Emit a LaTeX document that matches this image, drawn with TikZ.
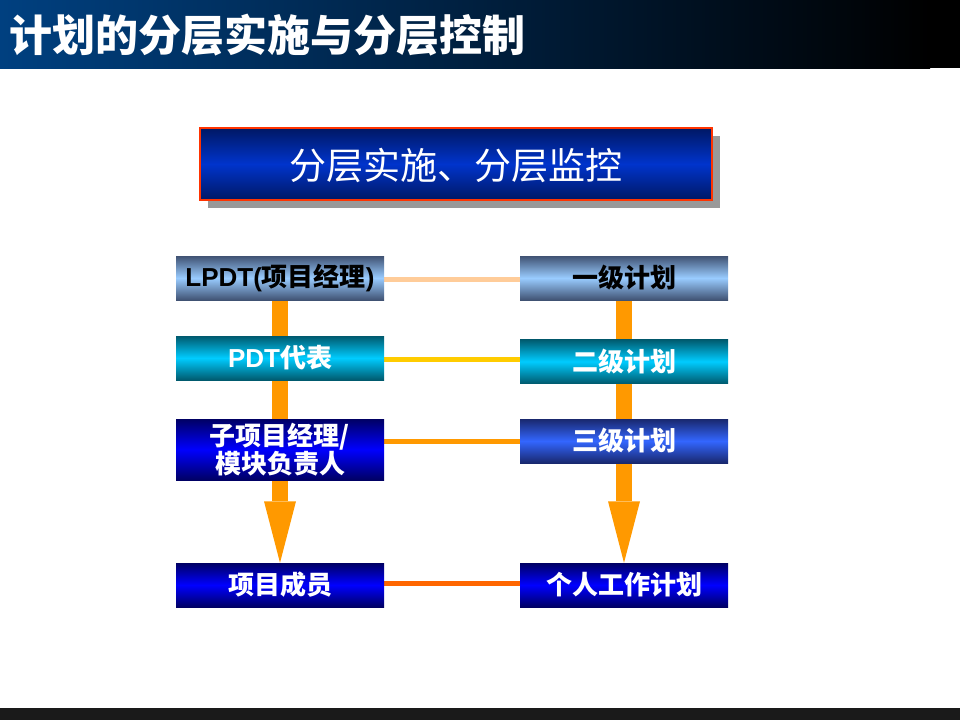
\documentclass[tikz,border=0pt]{standalone}
\usepackage{fontspec}
\usetikzlibrary{backgrounds}
\setmainfont{Liberation Sans}
\newfontfamily\cjk{Noto Sans CJK SC}
\definecolor{titleblue}{RGB}{0,64,128}
\definecolor{hdrdark}{RGB}{0,24,100}
\definecolor{hdrmid}{RGB}{0,52,204}
\definecolor{hdrred}{RGB}{255,51,0}
\definecolor{shadowgray}{RGB}{153,153,153}
\definecolor{lbmid}{RGB}{153,204,255}
\definecolor{lbedge}{RGB}{64,82,115}
\definecolor{cymid}{RGB}{0,204,255}
\definecolor{cyedge}{RGB}{0,90,110}
\definecolor{bmid}{RGB}{0,0,255}
\definecolor{bedge}{RGB}{0,0,100}
\definecolor{mbmid}{RGB}{51,102,255}
\definecolor{mbedge}{RGB}{25,40,110}
\definecolor{arroworange}{RGB}{255,153,0}
\definecolor{peach}{RGB}{255,204,153}
\definecolor{gold}{RGB}{255,204,0}
\definecolor{darkorange}{RGB}{255,102,0}
\definecolor{footgray}{RGB}{26,26,26}
\tikzset{
  box/.style={minimum width=208pt, minimum height=44pt, inner sep=0pt, align=center,
    font=\fontsize{26}{28}\selectfont\bfseries},
  cjkbox/.style={font=\fontsize{26}{28}\selectfont\bfseries\cjk},
  lightbox/.style={box, top color=lbedge, bottom color=lbedge, middle color=lbmid, text=black},
  cyanbox/.style={box, top color=cyedge, bottom color=cyedge, middle color=cymid, text=white},
  bluebox/.style={box, top color=bedge, bottom color=bedge, middle color=bmid, text=white},
  medbox/.style={box, top color=mbedge, bottom color=mbedge, middle color=mbmid, text=white},
  link/.style={line width=5pt},
  shaft/.style={line width=16pt, arroworange},
}
\begin{document}
\begin{tikzpicture}[x=1pt,y=-1pt]
\useasboundingbox (0,0) rectangle (960,720);
% title bar
\shade[left color=titleblue, right color=black] (0,0) rectangle (930,68);
\fill[black] (929,0) rectangle (960,68);
\node[anchor=west, text=white, inner sep=0pt, font=\fontsize{43}{45}\selectfont\bfseries\cjk] (title) at (9,35) {计划的分层实施与分层控制};
% footer
\fill[footgray] (0,708) rectangle (960,720);
% header box
\fill[shadowgray] (208,136) rectangle (720,208);
\shade[top color=hdrdark, bottom color=hdrdark, middle color=hdrmid] (200,128) rectangle (712,200);
\draw[hdrred, line width=2.5pt] (200,128) rectangle (712,200);
\node[text=white, font=\fontsize{37}{40}\selectfont\cjk] (hdr) at (456,165) {分层实施、分层监控};
% boxes
\node[lightbox] (lp) at (280,278) {LPDT({\cjk 项目经理})};
\node[cyanbox] (pdt) at (280,358) {PDT{\cjk 代表}};
\node[bluebox, cjkbox, minimum height=61pt] (sub) at (280,449.5) {子项目经理/\\模块负责人};
\node[bluebox, cjkbox] (mem) at (280,585) {项目成员};
\node[lightbox, cjkbox] (l1) at (624,278) {一级计划};
\node[cyanbox, cjkbox] (l2) at (624,361.5) {二级计划};
\node[medbox, cjkbox] (l3) at (624,441) {三级计划};
\node[bluebox, cjkbox] (ind) at (624,585) {个人工作计划};
% arrows and links behind boxes
\begin{scope}[on background layer]
\draw[shaft] (lp.south) -- ([yshift=62pt]mem.north);
\fill[arroworange] (mem.north) -- ++(-16,-61.5) -- ++(32,0) -- cycle;
\draw[shaft] (l1.south) -- ([yshift=62pt]ind.north);
\fill[arroworange] (ind.north) -- ++(-16,-61.5) -- ++(32,0) -- cycle;
\draw[link, peach] ([yshift=-1pt]lp.east) -- ([yshift=-1pt]l1.west);
\draw[link, gold] ([yshift=-1pt]pdt.east) -- ([yshift=-1pt]pdt.east -| l2.west);
\draw[link, arroworange] (l3.west -| sub.east) -- (l3.west);
\draw[link, darkorange] ([yshift=2pt]mem.east) -- ([yshift=2pt]ind.west);
\end{scope}
\end{tikzpicture}
\end{document}
